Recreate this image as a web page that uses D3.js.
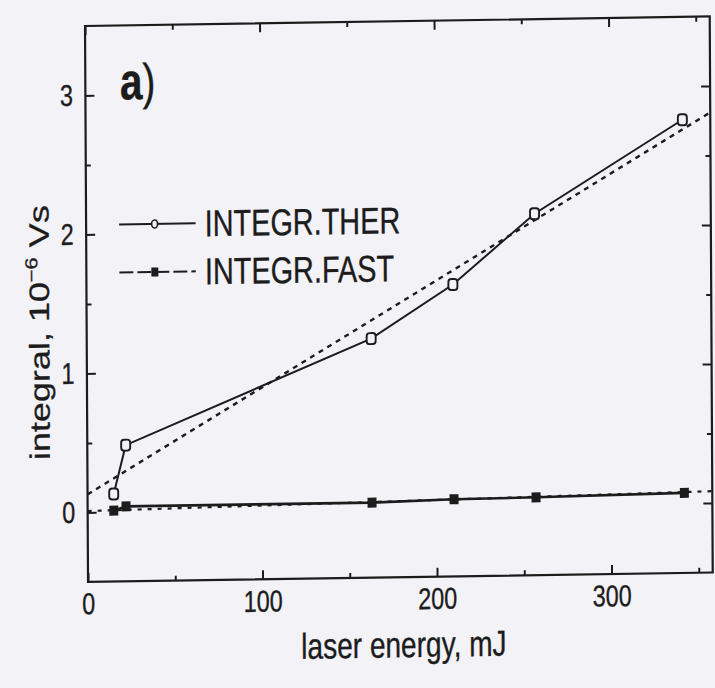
<!DOCTYPE html>
<html>
<head>
<meta charset="utf-8">
<script src="https://cdn.jsdelivr.net/npm/d3@7"></script>
<style>
  html, body { margin: 0; padding: 0; background: #f3f2f7; }
  svg { display: block; }
  text { font-family: "Liberation Sans", Arial, sans-serif; fill: #1c1c1c; stroke: #1c1c1c; stroke-width: 0.35; }
</style>
</head>
<body>
<svg id="chart" width="715" height="688"></svg>
<script>
// Laser energy (mJ) and the two integrated signals (10^-6 Vs)
const energy = [15, 22, 163, 210, 257, 342];
const integrTher = [0.13, 0.48, 1.22, 1.60, 2.10, 2.76];
const integrFast = [0.01, 0.04, 0.04, 0.055, 0.06, 0.076];

// Linear fits, given by their end points [energy, integral]
const fitTher = [[0, 0.13], [358, 2.81]];
const fitFast = [[0, 0.01], [358, 0.085]];

// Axis ticks
const xMajor = [0, 100, 200, 300];
const xMinor = [50, 150, 250, 350];
const yMajor = [0, 1, 2, 3];
const yMinor = [0.5, 1.5, 2.5];

const seriesNames = ["INTEGR.THER", "INTEGR.FAST"];
const xTitle = "laser energy, mJ";

const ink = "#1c1c1c";
const paper = "#f3f2f7";
const sx = 0.78; // horizontal squeeze of the lettering

const svg = d3.select("#chart");
svg.append("rect").attr("width", 715).attr("height", 688).attr("fill", paper);

// the printed sheet sits slightly askew
const g = svg.append("g")
  .attr("transform", "translate(85,300) matrix(1,-0.0152,0.0054,1,0,0) translate(-85,-300)");

const x = d3.scaleLinear().domain([0, 358]).range([86.5, 711.2]);
const y = d3.scaleLinear().domain([-0.5, 3.5]).range([582, 26]);

const [x0, x1] = x.range();
const [yb, yt] = y.range();

function styleAxis(sel) {
  sel.select(".domain").remove();
  sel.selectAll(".tick line").attr("stroke", ink).attr("stroke-width", 2);
}

// bottom axis with labels
const bottom = g.append("g").attr("transform", `translate(0,${yb})`)
  .call(d3.axisBottom(x).tickValues(xMajor).tickSize(-9).tickPadding(11).tickFormat(d3.format("d")));
styleAxis(bottom);
bottom.selectAll("text").attr("font-size", 30).attr("fill", ink)
  .attr("transform", `scale(${sx},1)`);
g.append("g").attr("transform", `translate(0,${yb})`)
  .call(d3.axisBottom(x).tickValues(xMinor).tickSize(-5).tickFormat(""))
  .call(styleAxis);

// top mirror
g.append("g").attr("transform", `translate(0,${yt})`)
  .call(d3.axisTop(x).tickValues(xMajor).tickSize(-9).tickFormat("")).call(styleAxis);
g.append("g").attr("transform", `translate(0,${yt})`)
  .call(d3.axisTop(x).tickValues(xMinor).tickSize(-5).tickFormat("")).call(styleAxis);

// left axis with labels
const left = g.append("g").attr("transform", `translate(${x0},0)`)
  .call(d3.axisLeft(y).tickValues(yMajor).tickSize(-9).tickPadding(16).tickFormat(d3.format("d")));
styleAxis(left);
left.selectAll("text").attr("font-size", 30).attr("fill", ink)
  .attr("transform", `scale(${sx},1)`);
g.append("g").attr("transform", `translate(${x0},0)`)
  .call(d3.axisLeft(y).tickValues(yMinor).tickSize(-5).tickFormat("")).call(styleAxis);

// right mirror
g.append("g").attr("transform", `translate(${x1},0)`)
  .call(d3.axisRight(y).tickValues(yMajor).tickSize(-9).tickFormat("")).call(styleAxis);
g.append("g").attr("transform", `translate(${x1},0)`)
  .call(d3.axisRight(y).tickValues(yMinor).tickSize(-5).tickFormat("")).call(styleAxis);

// frame
g.append("rect")
  .attr("x", x0).attr("y", yt).attr("width", x1 - x0).attr("height", yb - yt)
  .attr("fill", "none").attr("stroke", ink).attr("stroke-width", 2.2);

// fit lines
const line = d3.line().x(d => x(d[0])).y(d => y(d[1]));
g.append("path").datum(fitTher).attr("d", line)
  .attr("fill", "none").attr("stroke", ink).attr("stroke-width", 2.4).attr("stroke-dasharray", "5,5");
g.append("path").datum(fitFast).attr("d", line)
  .attr("fill", "none").attr("stroke", ink).attr("stroke-width", 2.2).attr("stroke-dasharray", "4,6");

// measured series
const therPts = energy.map((e, i) => [e, integrTher[i]]);
const fastPts = energy.map((e, i) => [e, integrFast[i]]);

g.append("path").datum(therPts).attr("d", line)
  .attr("fill", "none").attr("stroke", ink).attr("stroke-width", 2);
g.append("path").datum(fastPts).attr("d", line)
  .attr("fill", "none").attr("stroke", ink).attr("stroke-width", 2.6);

g.selectAll(".ther").data(therPts).join("rect").attr("class", "ther")
  .attr("x", d => x(d[0]) - 4.5).attr("y", d => y(d[1]) - 5.5)
  .attr("width", 9).attr("height", 11).attr("rx", 3)
  .attr("fill", paper).attr("stroke", ink).attr("stroke-width", 1.9);

g.selectAll(".fast").data(fastPts).join("rect").attr("class", "fast")
  .attr("x", d => x(d[0]) - 4.5).attr("y", d => y(d[1]) - 5)
  .attr("width", 9).attr("height", 10)
  .attr("fill", ink);

// legend
const legend = g.append("g");
const legendRows = [225, 273];
legendRows.forEach((ly, i) => {
  legend.append("line").attr("x1", 119.5).attr("x2", 196).attr("y1", ly).attr("y2", ly)
    .attr("stroke", ink).attr("stroke-width", 2)
    .attr("stroke-dasharray", i === 0 ? null : "14,4");
  if (i === 0) {
    legend.append("ellipse").attr("cx", 155).attr("cy", ly).attr("rx", 3).attr("ry", 4)
      .attr("fill", paper).attr("stroke", ink).attr("stroke-width", 1.6);
  } else {
    legend.append("rect").attr("x", 151.5).attr("y", ly - 4.5).attr("width", 7).attr("height", 9)
      .attr("fill", ink);
  }
  legend.append("text").attr("transform", `translate(205,${ly + 13}) scale(${sx},1)`)
    .attr("font-size", 37).text(seriesNames[i]);
});

// panel label
const panel = g.append("text").attr("transform", `translate(121,100) scale(${sx},1)`)
  .attr("font-size", 52);
panel.append("tspan").attr("font-weight", "bold").text("a");
panel.append("tspan").attr("font-size", 50).text(")");

// axis titles
g.append("text").attr("transform", `translate(402,662) scale(${sx},1)`)
  .attr("text-anchor", "middle").attr("font-size", 36).text(xTitle);

const yTitle = g.append("text").attr("transform", `translate(49,332) scale(${sx},1) rotate(-90)`)
  .attr("text-anchor", "middle").attr("font-size", 36);
yTitle.append("tspan").text("integral, 10");
yTitle.append("tspan").attr("font-size", 22).attr("dy", -15).text("\u22126");
yTitle.append("tspan").attr("dy", 15).text(" Vs");
</script>
</body>
</html>
